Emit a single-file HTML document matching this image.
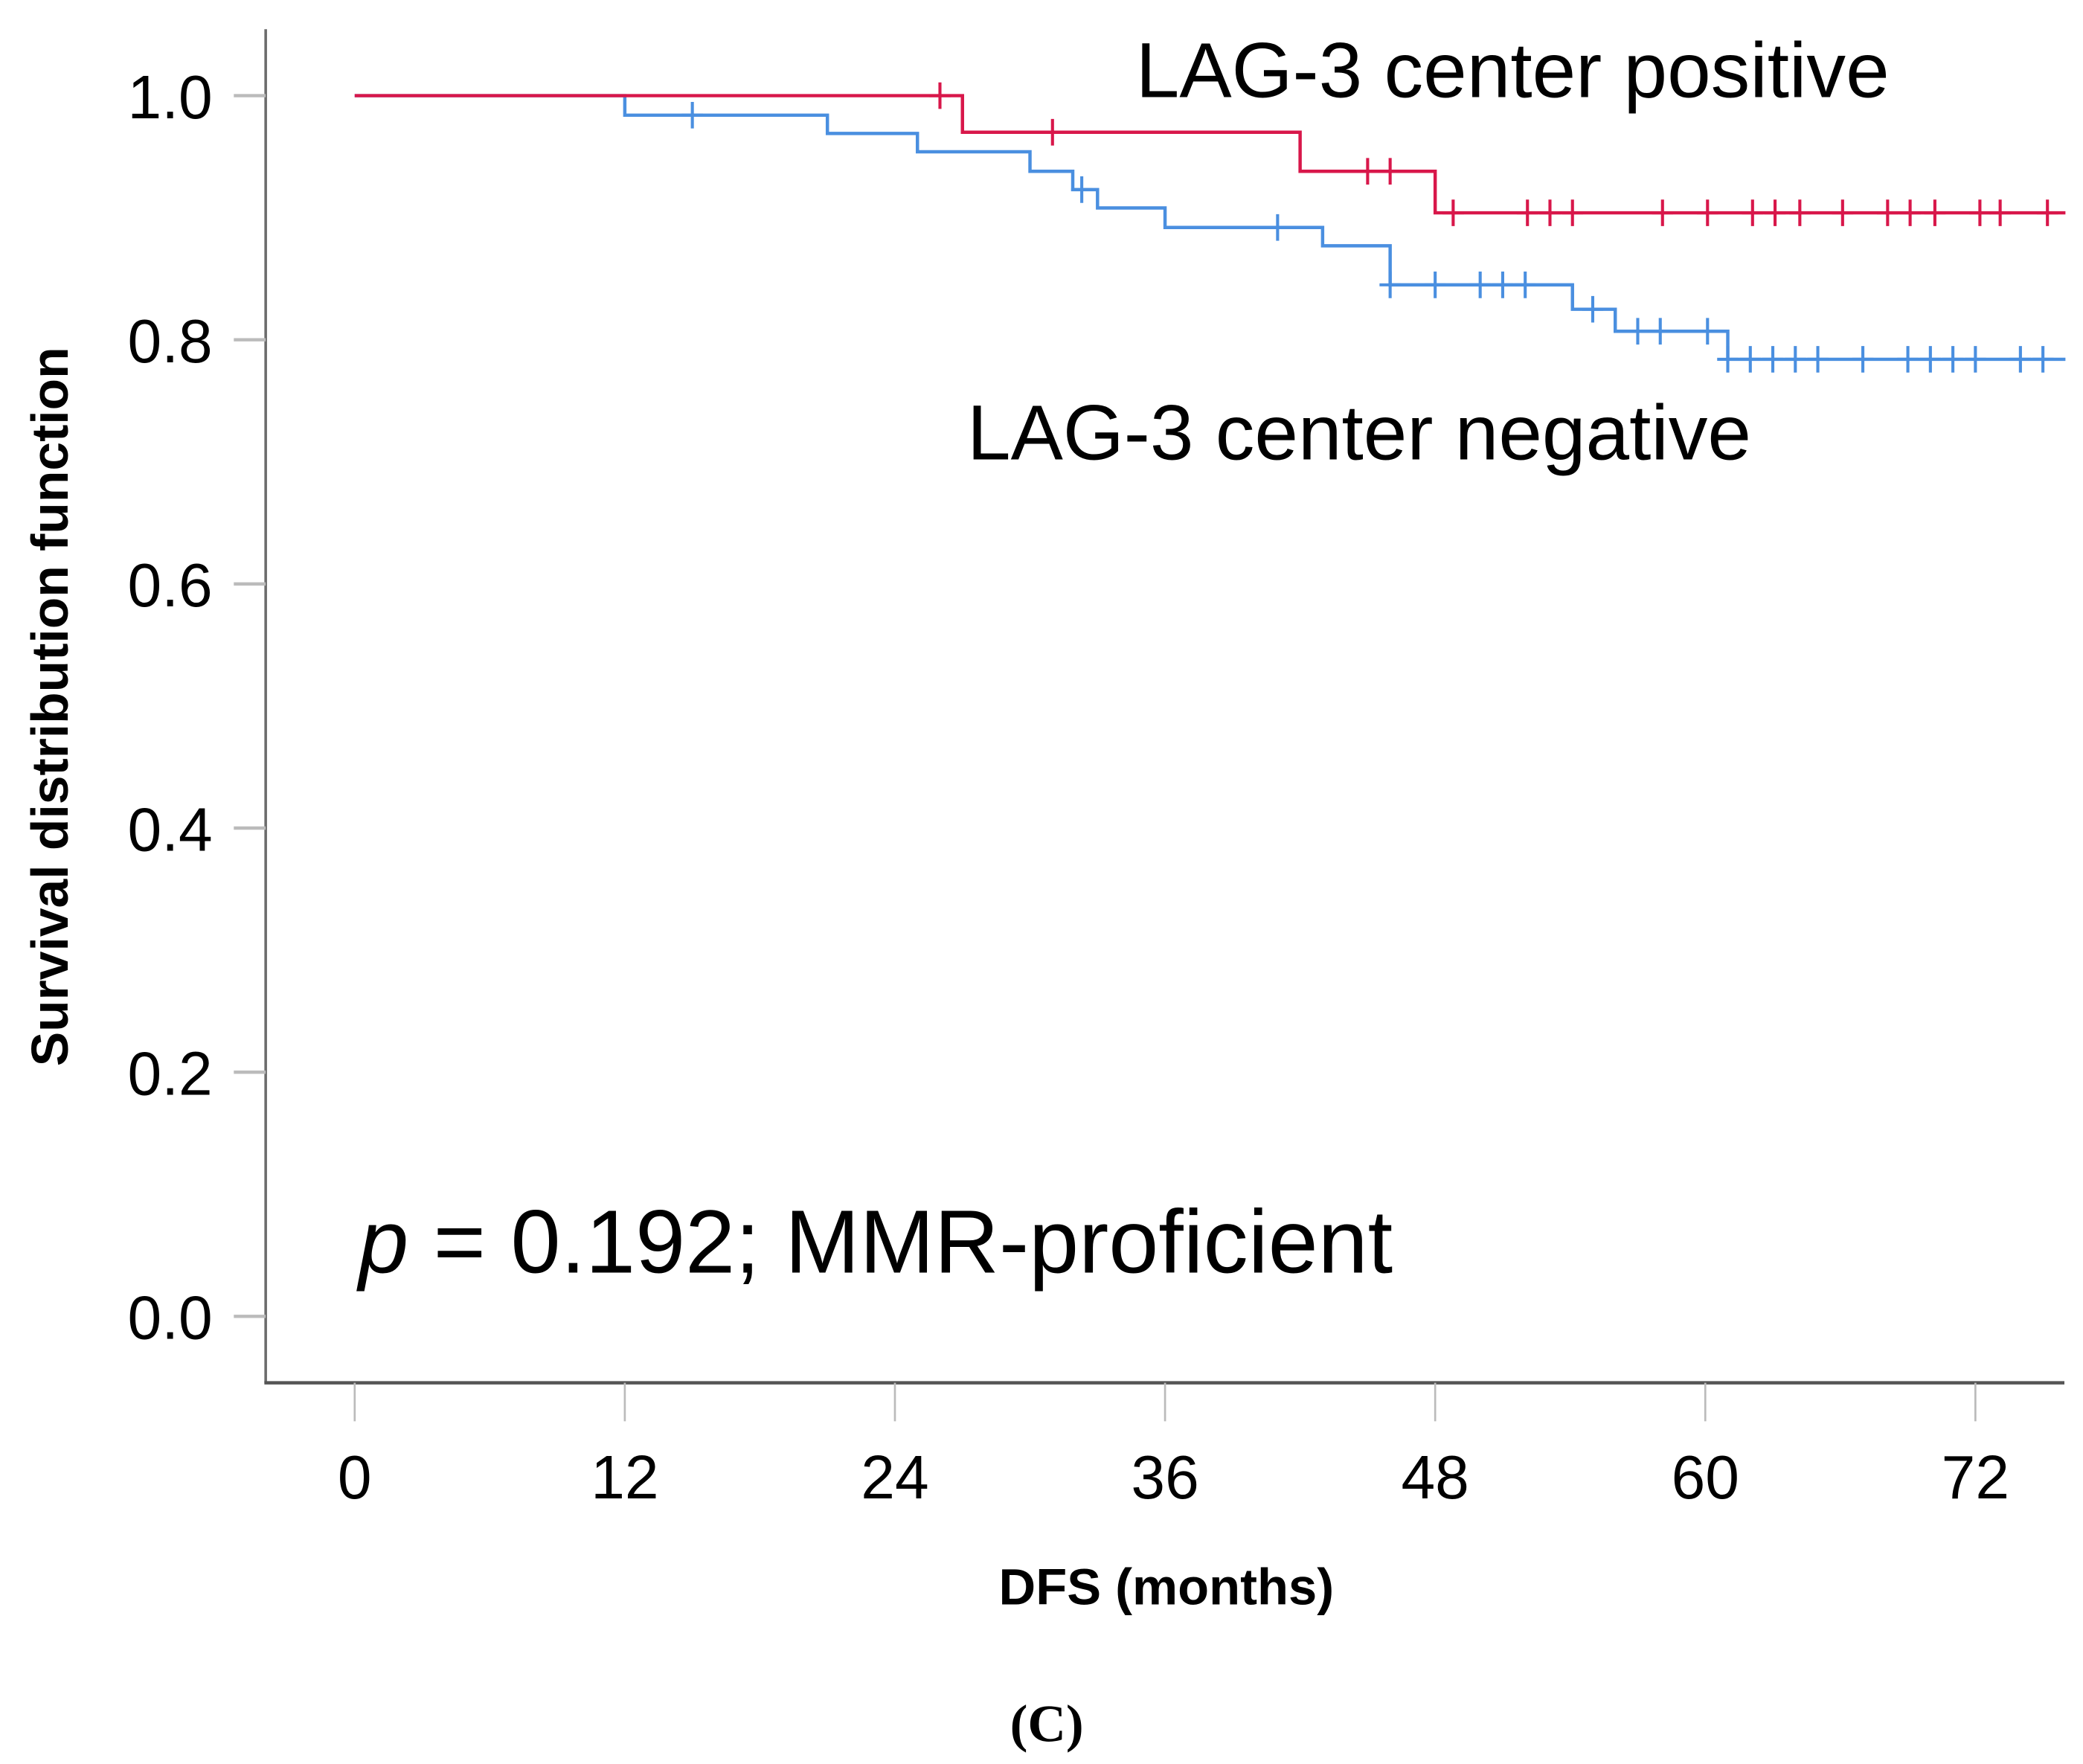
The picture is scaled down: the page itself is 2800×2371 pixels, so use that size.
<!DOCTYPE html>
<html><head><meta charset="utf-8"><style>
html,body{margin:0;padding:0;background:#fff;}
svg{display:block;}
text{font-family:"Liberation Sans",Arial,sans-serif;fill:#000;}
</style></head><body>
<svg id="chart" width="2800" height="2371" viewBox="0 0 1568 1328" preserveAspectRatio="none" xmlns="http://www.w3.org/2000/svg">
<g id="axes"></g>
<g id="series"></g>
<text x="0" y="0" transform="translate(51,532) rotate(-90)" text-anchor="middle" font-size="39" font-weight="bold">Survival distribution function</text>
<text x="878" y="1208" text-anchor="middle" font-size="38.5" font-weight="bold">DFS (months)</text>
<text x="855" y="73" font-size="59">LAG-3 center positive</text>
<text x="728" y="346" font-size="59">LAG-3 center negative</text>
<text x="270" y="958" font-size="67.5"><tspan font-style="italic">p</tspan> = 0.192; MMR-proficient</text>
<text x="788" y="1311" text-anchor="middle" font-size="40" font-weight="bold" style="font-family:'Liberation Serif',serif">(C)</text>
</svg>
<script>
const xTicks = [0, 12, 24, 36, 48, 60, 72];
const yTicks = [0.0, 0.2, 0.4, 0.6, 0.8, 1.0];
const yTickLabels = ["0.0", "0.2", "0.4", "0.6", "0.8", "1.0"];
const posTimes = [0, 27, 42, 48];
const posSurv = [1.0, 0.970, 0.938, 0.904];
const posCensor = [26, 31, 45, 46, 48.8, 52.1, 53.1, 54.1, 58.1, 60.1, 62.1, 63.1, 64.2, 66.1, 68.1, 69.1, 70.2, 72.2, 73.1, 75.2];
const negTimes = [0, 12, 21, 25, 30, 31.9, 33, 36, 43, 46, 54.1, 56, 61];
const negSurv = [1.0, 0.984, 0.969, 0.954, 0.938, 0.923, 0.908, 0.892, 0.877, 0.845, 0.825, 0.807, 0.784];
const negCensor = [15, 32.3, 41, 46, 48, 50, 51, 52, 55, 57, 58, 60.1, 61, 62, 63, 64, 65, 67, 69, 70, 71, 72, 74, 75];
const endTime = 76;

const NS = "http://www.w3.org/2000/svg";
const X = t => 267 + t * (1487 - 267) / 72;
const Y = v => 991 - v * (991 - 72);
function mk(tag, attrs, parent){ const e=document.createElementNS(NS,tag); for(const k in attrs) e.setAttribute(k,attrs[k]); parent.appendChild(e); return e; }
const axes = document.getElementById('axes');
const series = document.getElementById('series');

let el = mk('line',{x1:200,y1:22,x2:200,y2:1041,stroke:'#6b6b6b','stroke-width':2},axes);


el = mk('line',{x1:199,y1:1041,x2:1554,y2:1041,stroke:'#555','stroke-width':2.5},axes);



xTicks.forEach(t=>{
  const tk = mk('line',{x1:X(t),y1:1041,x2:X(t),y2:1070,stroke:'#bbb','stroke-width':1.5},axes);
  
  
  const lb = mk('text',{x:X(t),y:1128,'text-anchor':'middle','font-size':46},axes);
  lb.textContent = t;
  
  
});
yTicks.forEach((v,i)=>{
  const tk = mk('line',{x1:176,y1:Y(v),x2:200,y2:Y(v),stroke:'#bbb','stroke-width':2.5},axes);
  
  
  const lb = mk('text',{x:160,y:Y(v)+17,'text-anchor':'end','font-size':46},axes);
  lb.textContent = yTickLabels[i];
  
  
});

function survAt(times, surv, t){ let s=surv[0]; for(let i=0;i<times.length;i++){ if(times[i]<=t) s=surv[i]; } return s; }
function drawCurve(times, surv, censor, color, name){
  let d = 'M'+X(times[0])+','+Y(surv[0]);
  for(let i=1;i<times.length;i++){ d += ' H'+X(times[i])+' V'+Y(surv[i]); }
  d += ' H'+X(endTime);
  const p = mk('path',{d:d,fill:'none',stroke:color,'stroke-width':2.5},series);
  
  
  censor.forEach(t=>{
    const y = Y(survAt(times,surv,t));
    const c = mk('path',{d:'M'+X(t)+','+(y-10)+' V'+(y+10)+' M'+(X(t)-8)+','+y+' H'+(X(t)+8),stroke:color,'stroke-width':2.3},series);
    
    
  });
}
drawCurve(negTimes, negSurv, negCensor, '#4a8fe0', 'negative');
drawCurve(posTimes, posSurv, posCensor, '#d8174a', 'positive');
</script>
</body></html>
